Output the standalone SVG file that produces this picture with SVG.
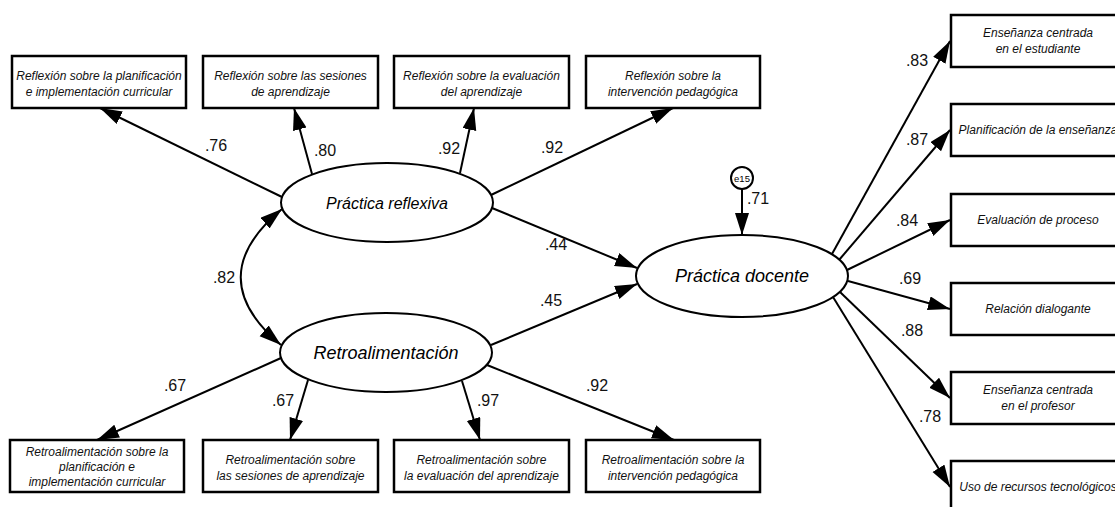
<svg xmlns="http://www.w3.org/2000/svg" width="1115" height="507" viewBox="0 0 1115 507">
<style>
.box{fill:#fff;stroke:#000;stroke-width:2.5}
.ell{fill:#fff;stroke:#000;stroke-width:2}
.bt{font-family:"Liberation Sans",Arial,sans-serif;font-size:12px;font-style:italic;fill:#111;text-anchor:middle;dominant-baseline:central}
.et{font-family:"Liberation Sans",Arial,sans-serif;font-style:italic;fill:#000;text-anchor:middle;dominant-baseline:central}
.lbl{font-family:"Liberation Sans",Arial,sans-serif;font-size:16px;fill:#111;text-anchor:middle;dominant-baseline:central}
.con{fill:none;stroke:#000;stroke-width:2;marker-end:url(#ah)}
</style>
<defs>
<marker id="ah" markerUnits="userSpaceOnUse" markerWidth="24" markerHeight="16" refX="22" refY="7" orient="auto-start-reverse">
<path d="M0,0 L22,7 L0,14 z" fill="#000"/>
</marker>
</defs>
<rect width="1115" height="507" fill="#fff"/>

<g id="connectors">
<path class="con" d="M282,197 L100,108"/>
<path class="con" d="M312,174 L294,108"/>
<path class="con" d="M460,173 L474,108"/>
<path class="con" d="M491,195 L673,108"/>
<path class="con" d="M281,358 L97,440"/>
<path class="con" d="M308,380 L290,440"/>
<path class="con" d="M462,381 L480,440"/>
<path class="con" d="M487,365 L674,440"/>
<path class="con" d="M492,208 L637,268"/>
<path class="con" d="M491,345 L637,284"/>
<path class="con" style="marker-start:url(#ah)" d="M282,209 Q200,277 281,345"/>
<path class="con" d="M742,189 L742,235"/>
<path class="con" d="M832,254 L950,41"/>
<path class="con" d="M839,260 L950,130"/>
<path class="con" d="M847,270 L950,220"/>
<path class="con" d="M848,281 L950,309"/>
<path class="con" d="M840,292 L950,398"/>
<path class="con" d="M833,297 L950,487"/>
<text class="lbl" x="216" y="145">.76</text>
<text class="lbl" x="325" y="150">.80</text>
<text class="lbl" x="449" y="148">.92</text>
<text class="lbl" x="552" y="147">.92</text>
<text class="lbl" x="224" y="277">.82</text>
<text class="lbl" x="556" y="244">.44</text>
<text class="lbl" x="551" y="300">.45</text>
<text class="lbl" x="175" y="385">.67</text>
<text class="lbl" x="283" y="400">.67</text>
<text class="lbl" x="488" y="400">.97</text>
<text class="lbl" x="597" y="385">.92</text>
<text class="lbl" x="758" y="198">.71</text>
<text class="lbl" x="917" y="60">.83</text>
<text class="lbl" x="917" y="139">.87</text>
<text class="lbl" x="907" y="220">.84</text>
<text class="lbl" x="910" y="278">.69</text>
<text class="lbl" x="912" y="330">.88</text>
<text class="lbl" x="930" y="416">.78</text>
</g>

<g id="box-r1"><rect class="box" x="12" y="56" width="174" height="52"/><text class="bt" x="99" y="75.5">Reflexión sobre la planificación</text><text class="bt" x="99" y="91.5">e implementación curricular</text></g>
<g id="box-r2"><rect class="box" x="203" y="56" width="175" height="52"/><text class="bt" x="290.5" y="75.5">Reflexión sobre las sesiones</text><text class="bt" x="290.5" y="91.5">de aprendizaje</text></g>
<g id="box-r3"><rect class="box" x="394" y="56" width="175" height="52"/><text class="bt" x="481.5" y="75.5">Reflexión sobre la evaluación</text><text class="bt" x="481.5" y="91.5">del aprendizaje</text></g>
<g id="box-r4"><rect class="box" x="586" y="56" width="174" height="52"/><text class="bt" x="673" y="75.5">Reflexión sobre la</text><text class="bt" x="673" y="91.5">intervención pedagógica</text></g>

<g id="box-f1"><rect class="box" x="10" y="440" width="174" height="52"/><text class="bt" x="97" y="452">Retroalimentación sobre la</text><text class="bt" x="97" y="467">planificación e</text><text class="bt" x="97" y="482">implementación curricular</text></g>
<g id="box-f2"><rect class="box" x="203" y="440" width="175" height="52"/><text class="bt" x="290.5" y="460">Retroalimentación sobre</text><text class="bt" x="290.5" y="476">las sesiones de aprendizaje</text></g>
<g id="box-f3"><rect class="box" x="394" y="440" width="175" height="52"/><text class="bt" x="481.5" y="460">Retroalimentación sobre</text><text class="bt" x="481.5" y="476">la evaluación del aprendizaje</text></g>
<g id="box-f4"><rect class="box" x="586" y="440" width="174" height="52"/><text class="bt" x="673" y="460">Retroalimentación sobre la</text><text class="bt" x="673" y="476">intervención pedagógica</text></g>

<g id="box-d1"><rect class="box" x="951" y="15" width="175" height="52"/><text class="bt" x="1038" y="33">Enseñanza centrada</text><text class="bt" x="1038" y="49">en el estudiante</text></g>
<g id="box-d2"><rect class="box" x="951" y="104" width="175" height="52"/><text class="bt" x="1038" y="130">Planificación de la enseñanza</text></g>
<g id="box-d3"><rect class="box" x="951" y="194" width="175" height="52"/><text class="bt" x="1038" y="220">Evaluación de proceso</text></g>
<g id="box-d4"><rect class="box" x="951" y="283" width="175" height="52"/><text class="bt" x="1038" y="309">Relación dialogante</text></g>
<g id="box-d5"><rect class="box" x="951" y="372" width="175" height="52"/><text class="bt" x="1038" y="390">Enseñanza centrada</text><text class="bt" x="1038" y="406">en el profesor</text></g>
<g id="box-d6"><rect class="box" x="951" y="461" width="175" height="52"/><text class="bt" x="1038" y="487">Uso de recursos tecnológicos</text></g>

<g id="practica-reflexiva"><ellipse class="ell" cx="387" cy="202.5" rx="106" ry="39.5"/><text class="et" x="387" y="203" font-size="16">Práctica reflexiva</text></g>
<g id="retroalimentacion"><ellipse class="ell" cx="386" cy="352.5" rx="106" ry="39.5"/><text class="et" x="386" y="353" font-size="18">Retroalimentación</text></g>
<g id="practica-docente"><ellipse class="ell" cx="742" cy="276" rx="106" ry="41"/><text class="et" x="742" y="276" font-size="18">Práctica docente</text></g>
<g id="e15"><circle cx="742" cy="178" r="11" fill="#fff" stroke="#000" stroke-width="2"/><text x="742" y="178" font-family="Liberation Sans, Arial, sans-serif" font-size="9.5" text-anchor="middle" dominant-baseline="central">e15</text></g>
</svg>
